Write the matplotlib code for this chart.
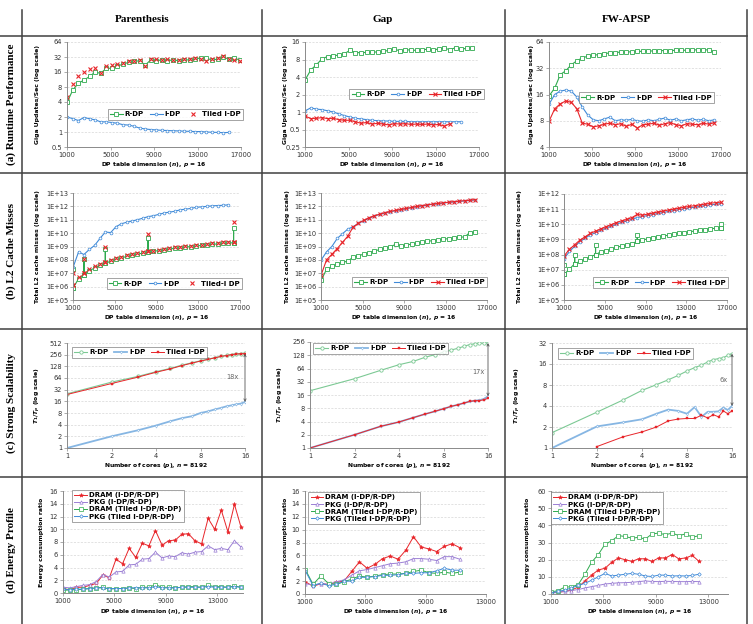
import matplotlib
matplotlib.use('Agg')
import matplotlib.pyplot as plt
import matplotlib.transforms as mtransforms
from matplotlib.lines import Line2D
from matplotlib.ticker import NullLocator

# ---------------- data ----------------
dims = [1024, 1536, 2048, 2560, 3072, 3584, 4096, 4608, 5120, 5632, 6144,
        6656, 7168, 7680, 8192, 8704, 9216, 9728, 10240, 10752, 11264,
        11776, 12288, 12800, 13312, 13824, 14336, 14848, 15360, 15872, 16384]
dims_ext = dims + [16896]
cores = [1, 2, 3, 4, 5, 6, 7, 8, 9, 10, 11, 12, 13, 14, 15, 16]

# (a) runtime, giga updates/sec
par_rt_rdp = [4, 7, 9.5, 11, 13, 16, 15, 19, 19, 21, 23, 25, 26, 27, 22, 28,
              27, 28, 27, 28, 27, 28, 28, 29, 31, 30, 28, 29, 32, 29, 30, 28]
par_rt_idp = [2.0, 1.85, 1.7, 1.95, 1.85, 1.75, 1.6, 1.6, 1.55, 1.5, 1.4, 1.38,
              1.3, 1.2, 1.15, 1.12, 1.1, 1.08, 1.07, 1.06, 1.05, 1.04, 1.03,
              1.02, 1.02, 1.0, 0.99, 0.98, 0.97, 0.98]
par_rt_tiled = [5, 9, 13.5, 16, 18, 19, 15, 21, 22, 23, 24, 26, 27, 28, 21, 29,
                29, 28, 29, 28, 28, 29, 29, 30, 29, 26, 29, 30, 33, 29, 28, 26]

gap_rt_rdp = [3.6, 5.3, 6.5, 8.2, 9, 9.3, 9.5, 10, 11.5, 10.5, 10.5, 10.6, 10.7,
              10.8, 11, 11.5, 12, 11.3, 11.8, 11.6, 11.5, 11.8, 12, 11.5, 12.3,
              12.5, 11.8, 12.8, 12, 12.5, 12.7]
gap_rt_idp = [1.05, 1.18, 1.12, 1.1, 1.05, 1.0, 0.93, 0.87, 0.82, 0.78, 0.76,
              0.74, 0.72, 0.71, 0.7, 0.7, 0.69, 0.69, 0.69, 0.68, 0.68, 0.68,
              0.68, 0.68, 0.68, 0.68, 0.68, 0.68, 0.68]
gap_rt_tiled = [0.85, 0.77, 0.78, 0.8, 0.77, 0.78, 0.74, 0.72, 0.72, 0.68, 0.64,
                0.66, 0.62, 0.64, 0.62, 0.6, 0.63, 0.62, 0.63, 0.61, 0.62, 0.61,
                0.62, 0.6, 0.61, 0.57, 0.63]

fw_rt_rdp = [15.5, 19, 27, 30, 35, 39, 42, 44, 45, 46, 47, 48, 48.5, 49, 49,
             49.5, 50, 50, 50.5, 50.5, 51, 51, 51, 51.5, 51.5, 51.5, 52, 52,
             52, 52, 49]
fw_rt_idp = [12.5, 16, 17.5, 18, 17.5, 15, 11.5, 9.3, 8.2, 8, 8.4, 8.8, 8.0,
             8.2, 8.1, 8.3, 8.0, 7.9, 8.2, 8.0, 8.3, 8.6, 8.1, 8.4, 8.0, 8.2,
             8.4, 8.1, 8.3, 8.0, 8.2]
fw_rt_tiled = [8.0, 11, 12.5, 13.5, 13, 11, 7.5, 7.3, 6.8, 7.0, 7.3, 7.5, 7.2,
               7.4, 6.9, 7.3, 6.6, 7.2, 7.3, 7.5, 7.1, 7.4, 7.6, 7.2, 7.0, 7.4,
               7.3, 7.2, 7.5, 7.3, 7.6]

# (b) total L2 cache misses
par_l2_rdp = [8e5, 4e6, 8e6, 1.5e7, 2.5e7, 4e7, 5.5e7, 8e7, 1.1e8, 1.4e8, 1.8e8,
              2.2e8, 2.7e8, 3.2e8, 3.8e8, 4.3e8, 5e8, 5.7e8, 6.5e8, 7.3e8,
              8.2e8, 9e8, 1e9, 1.1e9, 1.2e9, 1.3e9, 1.45e9, 1.55e9, 1.7e9,
              1.8e9, 1.9e9]
par_l2_rdp_spikes = {1024: 2e7, 2048: 1.2e8, 4096: 6e8, 8192: 4e9, 16384: 2.3e10}
par_l2_idp = [3e7, 4e8, 2.5e8, 6e8, 1.2e9, 4e9, 1.2e10, 1.1e10, 3e10, 5e10,
              6.5e10, 8e10, 1e11, 1.3e11, 1.7e11, 2e11, 2.5e11, 3.2e11, 3.7e11,
              4.3e11, 5.5e11, 6.2e11, 7e11, 8.5e11, 9.2e11, 1e12, 1.1e12,
              1.15e12, 1.2e12, 1.3e12]
par_l2_tiled = [1.3e6, 5e6, 1e7, 2e7, 3.2e7, 5e7, 7e7, 1e8, 1.3e8, 1.7e8, 2.2e8,
                2.7e8, 3.2e8, 3.8e8, 4.5e8, 5e8, 5.8e8, 6.6e8, 7.5e8, 8.5e8,
                9.5e8, 1.05e9, 1.15e9, 1.3e9, 1.4e9, 1.55e9, 1.7e9, 1.85e9,
                2.2e9, 2.1e9, 2.3e9]
par_l2_tiled_spikes = {1024: 1e7, 2048: 1.2e8, 4096: 1e9, 8192: 8e9, 16384: 7e10}

gap_l2_rdp = [3e6, 2e7, 3.2e7, 5e7, 6.5e7, 8e7, 1.6e8, 2e8, 2.7e8, 3.5e8, 4.5e8,
              6e8, 7.5e8, 9e8, 1.5e9, 1.1e9, 1.3e9, 1.5e9, 1.8e9, 2.1e9, 2.4e9,
              2.8e9, 3.1e9, 3.5e9, 3.9e9, 4.3e9, 4.8e9, 5.3e9, 1.1e10, 1.2e10]
gap_l2_idp = [1e8, 4e8, 1e9, 4e9, 9e9, 2e10, 3e10, 5.3e10, 8.5e10, 1.3e11,
              1.9e11, 2.5e11, 3.2e11, 4e11, 4.8e11, 5.7e11, 6.7e11, 8e11, 9.5e11,
              1.1e12, 1.25e12, 1.45e12, 1.6e12, 1.8e12, 2e12, 2.2e12, 2.4e12,
              2.6e12, 2.85e12, 3.1e12]
gap_l2_tiled = [8e6, 1e8, 2.6e8, 7e8, 2e9, 6e9, 2.8e10, 5.6e10, 9e10, 1.4e11,
                2e11, 2.6e11, 3.4e11, 4.2e11, 5e11, 6e11, 7e11, 8.3e11, 1e12,
                1.15e12, 1.3e12, 1.5e12, 1.65e12, 1.85e12, 2.05e12, 2.25e12,
                2.45e12, 2.65e12, 2.9e12, 3.2e12]

fw_l2_rdp = [5e6, 1.1e7, 2.5e7, 3.5e7, 5e7, 7e7, 1e8, 1.5e8, 1.8e8, 2.3e8, 3e8,
             3.6e8, 4.3e8, 5e8, 8e8, 9e8, 1.1e9, 1.3e9, 1.5e9, 1.7e9, 1.9e9,
             2.2e9, 2.5e9, 2.8e9, 3.2e9, 3.6e9, 4e9, 4.5e9, 5e9, 5.5e9, 6e9]
fw_l2_rdp_spikes = {1024: 2e7, 2048: 9e7, 4096: 4e8, 8192: 2e9, 16384: 1.1e10}
fw_l2_idp = [5.5e7, 1.6e8, 3.5e8, 7e8, 1.2e9, 2e9, 2.8e9, 4e9, 5.5e9, 7.5e9,
             1e10, 1.35e10, 1.7e10, 2.2e10, 2.8e10, 3.2e10, 3.8e10, 4.4e10,
             5.2e10, 6e10, 7e10, 8e10, 9.2e10, 1.05e11, 1.2e11, 1.35e11, 1.5e11,
             1.7e11, 1.9e11, 2.1e11, 2.3e11]
fw_l2_tiled = [8.5e7, 2.2e8, 4.5e8, 9e8, 1.5e9, 2.5e9, 3.5e9, 5e9, 7e9, 9.5e9,
               1.3e10, 1.7e10, 2.1e10, 2.8e10, 4.5e10, 4e10, 4.7e10, 5.5e10,
               6.5e10, 7.5e10, 8.8e10, 1e11, 1.15e11, 1.35e11, 1.5e11, 1.7e11,
               1.9e11, 2.15e11, 2.4e11, 2.7e11, 2.9e11]

# (c) strong scalability, T1/Tp
par_sc_rdp = [25, 50, 70, 93, 113, 138, 158, 178, 196, 215, 232, 245, 258, 268, 272, 280]
par_sc_idp = [1, 2, 2.85, 3.8, 4.9, 5.9, 6.6, 8, 8.8, 9.9, 10.8, 11.9, 12.6, 13.4, 14, 15.4]
par_sc_tiled = [24, 46, 67, 90, 110, 134, 155, 175, 193, 212, 230, 243, 257, 266, 270, 272]
gap_sc_rdp = [20, 37.5, 58, 78, 93, 115, 132, 149, 168, 184, 204, 223, 234, 239, 239, 243]
gap_sc_idp = [1, 2, 3.1, 3.9, 4.9, 5.9, 6.8, 7.8, 8.8, 9.6, 10.5, 11.4, 11.9, 12.2, 13, 15]
gap_sc_tiled = [1, 2, 3.1, 3.9, 4.9, 5.9, 6.8, 7.8, 8.8, 9.6, 10.5, 11.4, 11.9, 11.9, 12.5, 13.4]
fw_sc_rdp = [1.66, 3.27, 4.9, 6.7, 8.1, 9.5, 11, 12.7, 14.2, 15.4, 17.1, 18.5, 19.1, 19.7, 21.3, 22.5]
fw_sc_idp = [1, 2.04, 2.33, 2.58, 3.1, 3.55, 3.4, 3.1, 3.86, 2.8, 3.3, 3.3, 3.35, 3.8, 3.5, 4.0]
fw_sc_tiled = [1.05, 1.45, 1.7, 2.0, 2.45, 2.6, 2.65, 2.65, 2.95, 2.7, 3.0, 2.8, 3.4, 3.1, 3.4]
speedup_gap = ['18x', '17x', '6x']

# (d) energy consumption ratio
par_dram_idp = [0.7, 0.5, 0.9, 0.9, 1.2, 1.5, 2.8, 2.4, 5.3, 4.6, 7.0, 5.6, 7.8, 7.4,
                9.8, 7.5, 8.2, 8.3, 9.2, 9.3, 8.2, 7.7, 11.7, 10.0, 13.0, 9.6, 13.9, 10.3]
par_pkg_idp = [0.9, 0.8, 1.0, 1.2, 1.3, 1.8, 2.9, 2.5, 3.3, 3.4, 4.4, 4.5, 5.3, 5.4,
               6.4, 5.5, 5.8, 5.7, 6.3, 6.1, 6.4, 6.5, 7.4, 6.8, 7.0, 6.8, 8.2, 7.2]
par_dram_tiled = [0.4, 0.5, 0.5, 0.6, 0.7, 0.8, 0.9, 0.6, 0.7, 0.7, 0.8, 0.7, 0.9, 0.9,
                  1.3, 0.9, 0.9, 0.8, 0.9, 1.0, 1.0, 0.9, 1.2, 1.0, 1.0, 0.9, 1.1, 0.9]
par_pkg_tiled = [0.6, 0.5, 0.6, 0.6, 0.7, 0.8, 0.8, 0.7, 0.7, 0.7, 0.8, 0.8, 0.8, 0.8,
                 1.0, 0.8, 0.8, 0.8, 0.9, 0.9, 0.9, 0.9, 1.0, 0.9, 0.9, 0.9, 1.0, 0.9]

gap_dram_idp = [1.9, 1.2, 1.6, 1.5, 1.8, 2.0, 3.5, 5.0, 4.0, 4.6, 5.5, 5.9, 5.4, 6.8,
                8.9, 7.3, 7.0, 6.6, 7.4, 7.8, 7.2]
gap_pkg_idp = [1.6, 1.4, 1.6, 1.5, 1.9, 2.2, 2.9, 3.6, 3.8, 4.1, 4.4, 4.7, 4.8, 5.0,
               5.5, 5.5, 5.4, 5.2, 5.8, 5.8, 5.4]
gap_dram_tiled = [3.8, 1.5, 2.8, 1.6, 1.5, 1.9, 2.3, 2.8, 2.6, 2.8, 3.0, 3.1, 3.1, 3.2,
                  3.5, 3.7, 3.3, 3.2, 3.4, 3.2, 3.4]
gap_pkg_tiled = [3.6, 1.3, 1.7, 1.3, 1.5, 2.0, 2.0, 2.6, 2.6, 2.7, 2.9, 2.9, 3.0, 3.2,
                 3.2, 3.3, 3.3, 3.6, 4.0, 3.7, 3.7]

fw_dram_idp = [0.8, 1.0, 1.5, 2.3, 4.0, 7.5, 11, 14, 15, 18.5, 21, 20, 19, 20.5, 20.5,
               19, 21, 21, 23, 20.5, 21, 22.5, 19]
fw_pkg_idp = [0.4, 1.0, 1.5, 2.0, 2.6, 3.5, 4.3, 5.0, 5.8, 6.2, 6.5, 6.6, 6.8, 7.2,
              7.6, 7.3, 7.2, 7.4, 7.3, 7.2, 7.2, 7.3, 7.2]
fw_dram_tiled = [1.2, 2.0, 4.0, 4.2, 5.5, 11.5, 18.5, 23, 29, 31, 34, 33.5, 32.5, 33,
                 32, 35, 35.5, 34.5, 35.5, 34, 35, 33, 34]
fw_pkg_tiled = [0.8, 1.5, 2.3, 3.5, 5.0, 6.2, 8.0, 10, 12, 10.5, 11, 11.5, 12, 11.5,
                10.5, 10.2, 11, 11, 10.5, 10.6, 10.5, 10.8, 11.5]

columns = ['Parenthesis', 'Gap', 'FW-APSP']
rows = ['(a) Runtime Performance', '(b) L2 Cache Misses',
        '(c) Strong Scalability', '(d) Energy Profile']

# ---------------- style ----------------
W, H = 753, 624
plt.rcParams['font.family'] = 'DejaVu Sans'
plt.rcParams['mathtext.fontset'] = 'custom'
plt.rcParams['mathtext.it'] = 'DejaVu Sans:italic:bold'
plt.rcParams['mathtext.rm'] = 'DejaVu Sans:bold'
plt.rcParams['mathtext.bf'] = 'DejaVu Sans:bold'

GREEN = '#2eaa4e'
BLUE = '#3f8ad8'
RED = '#e8252a'
PURPLE = '#9b7fd4'
LGREEN = '#7cc994'
LBLUE = '#86b6e3'
GRAY = '#8a8a8a'

fig = plt.figure(figsize=(W / 100, H / 100), dpi=100)


def panel(l, t, r, b):
    ax = fig.add_axes([l / W, 1 - b / H, (r - l) / W, (b - t) / H])
    for s in ('top', 'right'):
        ax.spines[s].set_visible(False)
    for s in ('left', 'bottom'):
        ax.spines[s].set_color(GRAY)
        ax.spines[s].set_linewidth(0.7)
    ax.tick_params(labelsize=4.8, length=2, width=0.5, color=GRAY, pad=1.5,
                   labelcolor='#333333')
    ax.yaxis.grid(True, color='#d6d6d6', lw=0.5, ls=(0, (3, 2)))
    ax.set_axisbelow(True)
    return ax


def labels(ax, xlabel, ylabel, xl_y, yl_x):
    ax.set_xlabel(xlabel, fontsize=4.3, fontweight='bold', va='center')
    ax.xaxis.set_label_coords(0.5, 1 - xl_y / H, transform=mtransforms.blended_transform_factory(ax.transAxes, fig.transFigure))
    ax.set_ylabel(ylabel, fontsize=4.4, fontweight='bold', va='center')
    ax.yaxis.set_label_coords(yl_x / W, 0.5, transform=mtransforms.blended_transform_factory(fig.transFigure, ax.transAxes))


def log_y(ax, base, lo, hi, ticks, ticklabels):
    ax.set_yscale('log', base=base)
    ax.set_ylim(lo, hi)
    ax.set_yticks(ticks, labels=ticklabels)
    ax.yaxis.set_minor_locator(NullLocator())


def legend(ax, loc, anchor, ncol=3, size=5, **kw):
    lg = ax.legend(loc=loc, bbox_to_anchor=anchor, ncol=ncol, frameon=True,
                   fancybox=False, prop={'weight': 'bold', 'size': size},
                   handlelength=1.8, handletextpad=0.3, columnspacing=0.9,
                   borderpad=0.35, borderaxespad=0, **kw)
    lg.get_frame().set_edgecolor('#7a7a7a')
    lg.get_frame().set_linewidth(0.6)


def with_spikes(xs, ys, spikes):
    ox, oy = [], []
    for x, y in zip(xs, ys):
        ox.append(x)
        oy.append(y)
        if x in spikes:
            ox += [x, x]
            oy += [spikes[x], y]
    return ox, oy


RDP = dict(color=GREEN, marker='s', mfc='white', ms=2.8, mew=0.6, lw=0.8)
IDP = dict(color=BLUE, marker='o', mfc='white', ms=2.0, mew=0.5, lw=0.8)
TIL = dict(color=RED, marker='x', ms=2.4, mew=0.8, lw=0.8)
TIL_NOLINE = dict(color=RED, marker='x', ms=2.4, mew=0.8, ls='none')

dp_xlabel = r'DP table dimension ($n$), $p$ = 16'
dp_xticks = [1000, 5000, 9000, 13000, 17000]

# ---------------- row (a) ----------------
rt_ylabel = 'Giga Updates/Sec (log scale)'
ax = panel(67, 42, 241, 147)
ax.plot(dims_ext, par_rt_rdp, label='R-DP', **RDP)
ax.plot(dims[:30], par_rt_idp, label='I-DP', **IDP)
ax.plot(dims_ext, par_rt_tiled, label='Tiled I-DP', **TIL_NOLINE)
ax.set_xlim(1000, 17000)
ax.set_xticks(dp_xticks)
log_y(ax, 2, 0.5, 64, [0.5, 1, 2, 4, 8, 16, 32, 64], ['0.5', '1', '2', '4', '8', '16', '32', '64'])
labels(ax, dp_xlabel, rt_ylabel, 165, 38)
legend(ax, 'center right', (1.01, 0.31))

ax = panel(305, 42, 479, 147)
ax.plot(dims, gap_rt_rdp, label='R-DP', **RDP)
ax.plot(dims[:29], gap_rt_idp, label='I-DP', **IDP)
ax.plot(dims[:27], gap_rt_tiled, label='Tiled I-DP', **TIL)
ax.set_xlim(1000, 17000)
ax.set_xticks(dp_xticks)
log_y(ax, 2, 0.25, 16, [0.25, 0.5, 1, 2, 4, 8, 16], ['0.25', '0.5', '1', '2', '4', '8', '16'])
labels(ax, dp_xlabel, rt_ylabel, 165, 286)
legend(ax, 'center right', (1.03, 0.505))

ax = panel(549, 42, 721, 147)
ax.plot(dims, fw_rt_rdp, label='R-DP', **RDP)
ax.plot(dims, fw_rt_idp, label='I-DP', **IDP)
ax.plot(dims, fw_rt_tiled, label='Tiled I-DP', **TIL)
ax.set_xlim(1000, 17000)
ax.set_xticks(dp_xticks)
log_y(ax, 2, 4, 64, [4, 8, 16, 32, 64], ['4', '8', '16', '32', '64'])
labels(ax, dp_xlabel, rt_ylabel, 165, 532)
legend(ax, 'center right', (0.96, 0.47))

# ---------------- row (b) ----------------
l2_ylabel = 'Total L2 cache misses (log scale)'


def l2_ticks(lo, hi):
    return [10.0 ** k for k in range(lo, hi + 1)], ['1E+%02d' % k for k in range(lo, hi + 1)]


ax = panel(73, 193, 240, 300)
x, y = with_spikes(dims, par_l2_rdp, par_l2_rdp_spikes)
ax.plot(x, y, label='R-DP', **RDP)
ax.plot(dims[:30], par_l2_idp, label='I-DP', **IDP)
x, y = with_spikes(dims, par_l2_tiled, par_l2_tiled_spikes)
ax.plot(x, y, label='Tiled-I DP', **TIL_NOLINE)
ax.set_xlim(1000, 17000)
ax.set_xticks(dp_xticks)
t, tl = l2_ticks(5, 13)
log_y(ax, 10, 1e5, 1e13, t, tl)
labels(ax, dp_xlabel, l2_ylabel, 318, 37)
legend(ax, 'center right', (1.01, 0.154))

ax = panel(321, 193, 487, 300)
ax.plot(dims[:30], gap_l2_rdp, label='R-DP', **RDP)
ax.plot(dims[:30], gap_l2_idp, label='I-DP', **IDP)
ax.plot(dims[:30], gap_l2_tiled, label='Tiled I-DP', **TIL)
ax.set_xlim(1000, 17000)
ax.set_xticks(dp_xticks)
t, tl = l2_ticks(5, 13)
log_y(ax, 10, 1e5, 1e13, t, tl)
labels(ax, dp_xlabel, l2_ylabel, 318, 287)
legend(ax, 'center right', (1.0, 0.168))

ax = panel(564, 194, 727, 300)
x, y = with_spikes(dims, fw_l2_rdp, fw_l2_rdp_spikes)
ax.plot(x, y, label='R-DP', **RDP)
ax.plot(dims, fw_l2_idp, label='I-DP', **IDP)
ax.plot(dims, fw_l2_tiled, label='Tiled I-DP', **TIL)
ax.set_xlim(1000, 17000)
ax.set_xticks(dp_xticks)
t, tl = l2_ticks(5, 12)
log_y(ax, 10, 1e5, 1e12, t, tl)
labels(ax, dp_xlabel, l2_ylabel, 318, 520)
legend(ax, 'center right', (1.006, 0.165))

# ---------------- row (c) ----------------
sc_ylabel = r'$T_1/T_p$ (log scale)'
sc_xlabel = r'Number of cores ($p$), $n$ = 8192'
SC_RDP = dict(color=LGREEN, marker='o', mfc='white', ms=2.4, mew=0.6, lw=0.8)
SC_IDP = dict(color=LBLUE, marker='d', mfc='white', ms=1.6, mew=0.4, lw=1.3)
SC_TIL = dict(color=RED, marker='s', ms=1.7, mew=0.3, lw=0.7)


def sc_axes(ax, hi, yl_x, arrow, text, txt_xy):
    ax.set_xscale('log', base=2)
    ax.set_xlim(1, 16)
    ax.set_xticks([1, 2, 4, 8, 16], labels=['1', '2', '4', '8', '16'])
    ax.xaxis.set_minor_locator(NullLocator())
    ticks = [2 ** k for k in range(0, hi + 1)]
    log_y(ax, 2, 1, 2 ** hi, ticks, [str(v) for v in ticks])
    labels(ax, sc_xlabel, sc_ylabel, 466, yl_x)
    ax.annotate('', xy=(16, arrow[1]), xytext=(16, arrow[0]),
                arrowprops=dict(arrowstyle='<->', color='#555555', lw=0.6,
                                mutation_scale=4, shrinkA=0, shrinkB=0))
    ax.text(txt_xy[0], txt_xy[1], text, fontsize=4.8, color='#666666',
            ha='center', va='center')


ax = panel(67, 343, 245, 448)
ax.plot(cores, par_sc_rdp, label='R-DP', **SC_RDP)
ax.plot(cores, par_sc_idp, label='I-DP', **SC_IDP)
ax.plot(cores, par_sc_tiled, label='Tiled I-DP', **SC_TIL)
sc_axes(ax, 9, 38, (par_sc_tiled[-1], par_sc_idp[-1]), speedup_gap[0], (13.1, 68))
legend(ax, 'upper left', (0.028, 0.962))

ax = panel(310, 342, 488, 448)
ax.plot(cores, gap_sc_rdp, label='R-DP', **SC_RDP)
ax.plot(cores, gap_sc_idp, label='I-DP', **SC_IDP)
ax.plot(cores, gap_sc_tiled, label='Tiled I-DP', **SC_TIL)
sc_axes(ax, 8, 281, (gap_sc_rdp[-1], gap_sc_idp[-1]), speedup_gap[1], (13.7, 53))
legend(ax, 'upper left', (0.017, 0.99))

ax = panel(552, 343, 732, 448)
ax.plot(cores, fw_sc_rdp, label='R-DP', **SC_RDP)
ax.plot(cores, fw_sc_idp, label='I-DP', **SC_IDP)
ax.plot(cores[1:], fw_sc_tiled, label='Tiled I-DP', **SC_TIL)
sc_axes(ax, 5, 518, (fw_sc_rdp[-1], fw_sc_idp[-1]), speedup_gap[2], (14.1, 9.4))
legend(ax, 'upper left', (0.033, 0.952))

# ---------------- row (d) ----------------
en_ylabel = 'Energy consumption ratio'
E_DRAM = dict(color=RED, marker='*', ms=3.0, mew=0.4, lw=0.7)
E_PKG = dict(color=PURPLE, marker='^', mfc='white', ms=2.4, mew=0.5, lw=0.7)
E_DRAM_T = dict(color=GREEN, marker='s', mfc='white', ms=2.4, mew=0.5, lw=0.7)
E_PKG_T = dict(color=BLUE, marker='D', mfc='white', ms=1.8, mew=0.5, lw=0.7)
en_names = ['DRAM (I-DP/R-DP)', 'PKG (I-DP/R-DP)',
            'DRAM (Tiled I-DP/R-DP)', 'PKG (Tiled I-DP/R-DP)']


def energy(box, series, xmax, ymax, ystep, yl_x, anchor):
    ax = panel(*box)
    n = len(series[0])
    for vals, sty, name in zip(series, (E_DRAM, E_PKG, E_DRAM_T, E_PKG_T), en_names):
        ax.plot(dims[:n], vals, label=name, **sty)
    ax.set_xlim(1000, xmax)
    ax.set_xticks([1000, 5000, 9000, 13000])
    ax.set_ylim(0, ymax)
    ax.set_yticks(list(range(0, ymax + 1, ystep)))
    labels(ax, dp_xlabel, en_ylabel, 612, yl_x)
    legend(ax, 'upper left', anchor, ncol=1, size=5.0, labelspacing=0.15)
    return ax


energy((63, 491, 243, 593), [par_dram_idp, par_pkg_idp, par_dram_tiled, par_pkg_tiled],
       15000, 16, 2, 42, (0.05, 1.01))
energy((305, 491, 486, 594), [gap_dram_idp, gap_pkg_idp, gap_dram_tiled, gap_pkg_tiled],
       13000, 16, 2, 285, (0.017, 0.99))
energy((551, 491, 728, 594), [fw_dram_idp, fw_pkg_idp, fw_dram_tiled, fw_pkg_tiled],
       14500, 60, 10, 527, (0.0, 0.99))

# ---------------- table frame and headings ----------------
LINE = '#404040'
for xv in (22, 262, 505, 747):
    fig.add_artist(Line2D([xv / W, xv / W], [1 - 10 / H, 0], transform=fig.transFigure,
                          color=LINE, lw=1.1))
for yv in (36, 173, 329, 477):
    fig.add_artist(Line2D([0, 747 / W], [1 - yv / H, 1 - yv / H], transform=fig.transFigure,
                          color=LINE, lw=1.1))

for name, cx in zip(columns, (142, 383, 626)):
    fig.text(cx / W, 1 - 19 / H, name, ha='center', va='center',
             fontfamily='Liberation Serif', fontweight='bold', fontsize=8)
for name, cy in zip(rows, (104, 251, 403, 550)):
    fig.text(11 / W, 1 - cy / H, name, ha='center', va='center', rotation=90,
             fontfamily='Liberation Serif', fontweight='bold', fontsize=8)

fig.savefig('out.png', dpi=100, facecolor='white')
